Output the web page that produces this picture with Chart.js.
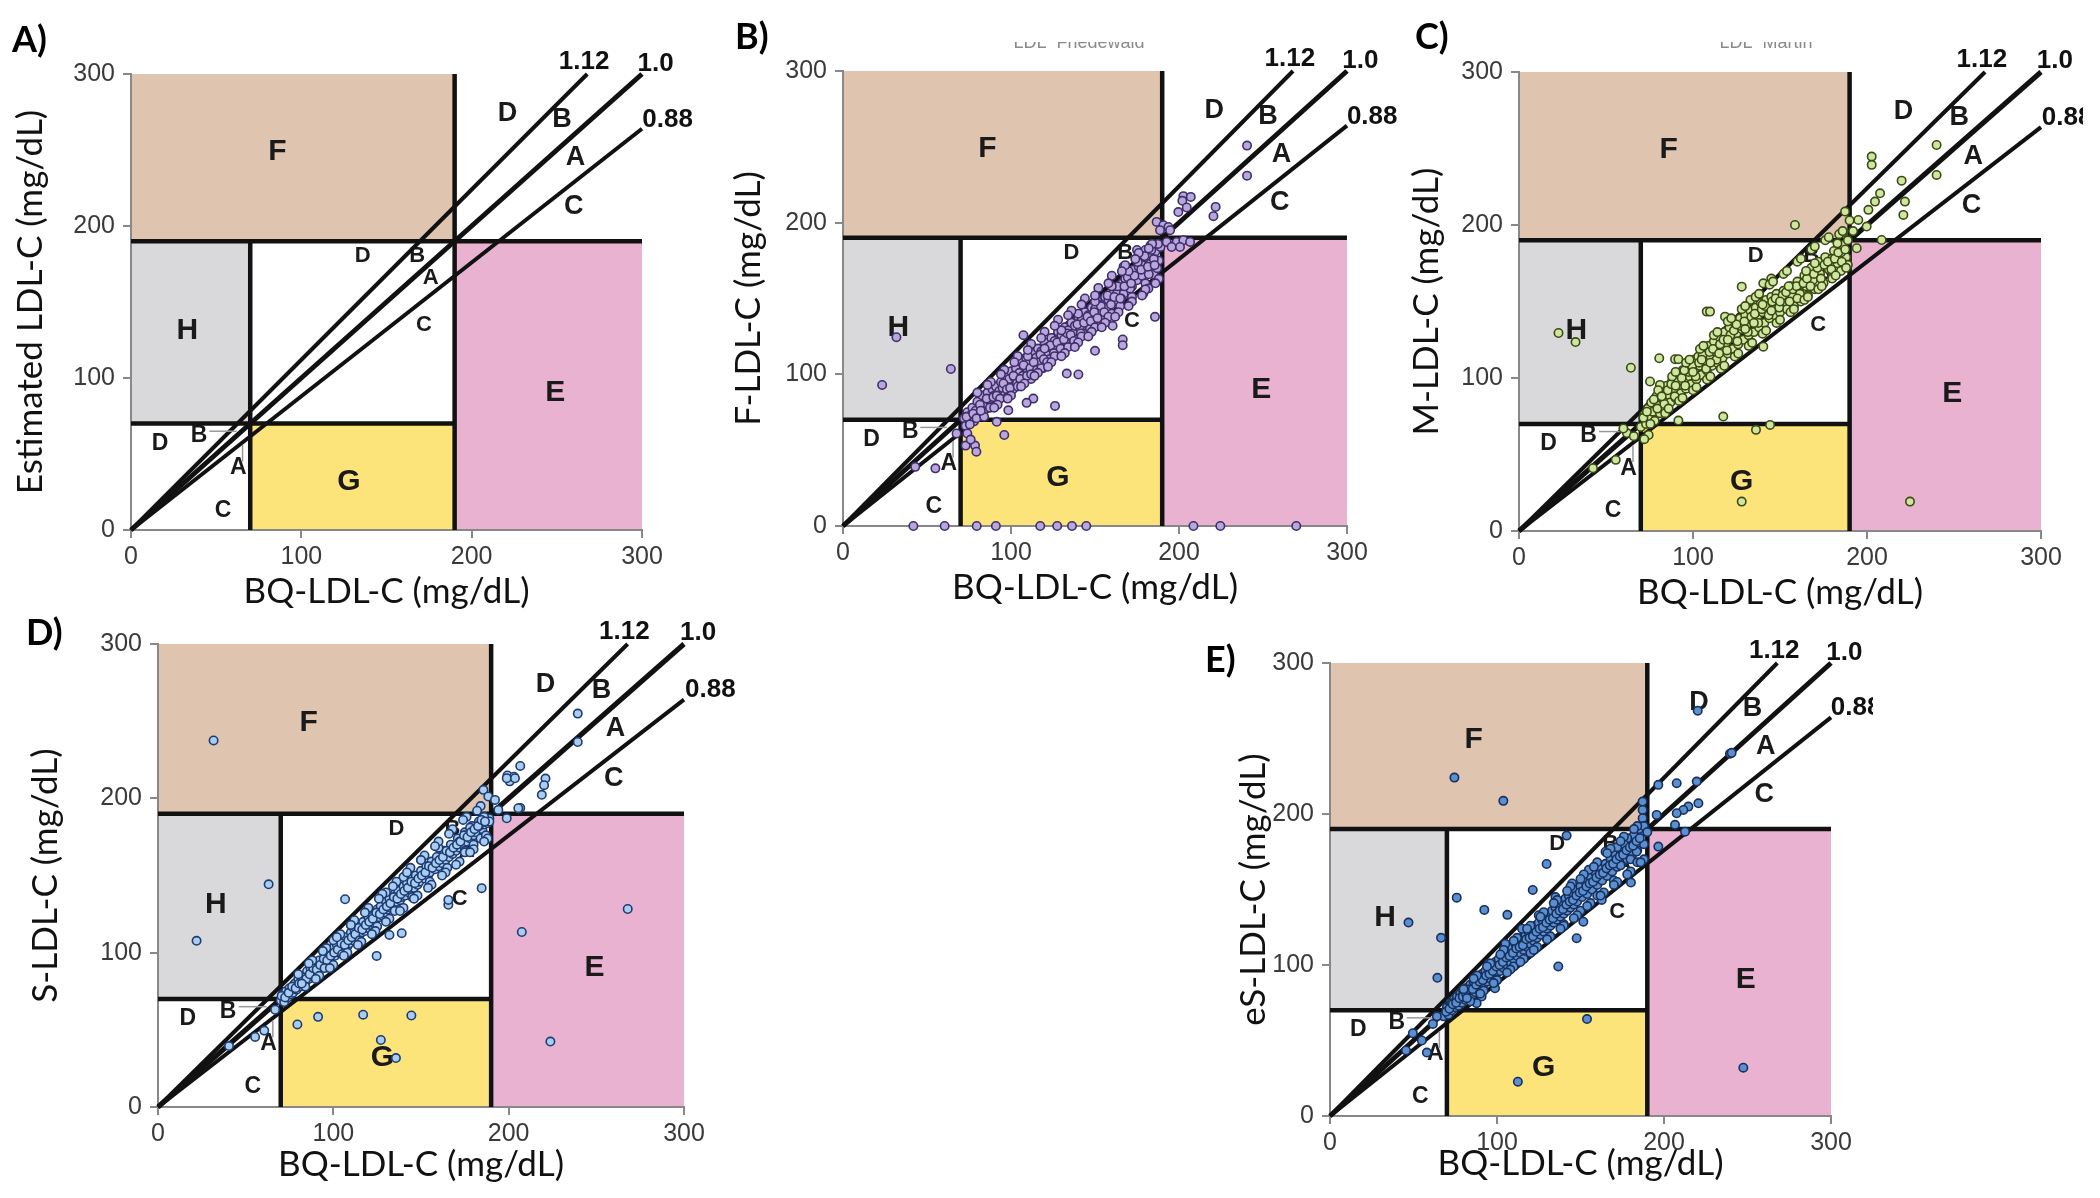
<!DOCTYPE html>
<html>
<head>
<meta charset="utf-8">
<script src="https://cdn.jsdelivr.net/npm/chart.js@4.4.1/dist/chart.umd.min.js"></script>
<style>
  body { margin: 0; background: #fff; width: 2100px; height: 1198px; overflow: hidden; position: relative; }
  canvas { position: absolute; }
  .tag { position: absolute; font: bold 36px Lato; color: #000; line-height: 1; }
  .faint { position: absolute; overflow: hidden; height: 9px; width: 200px; }
  .faint span { position: absolute; left: 0; width: 200px; text-align: center; top: -9px; font: 18px "Liberation Sans"; line-height: 18px; color: #8a8a8a; white-space: nowrap; }
</style>
</head>
<body>
<script>
// axis + zone definitions
const axisTicks = [0, 100, 200, 300];
const cutLow = 70;
const cutHigh = 190;
const slopes = [1.12, 1.0, 0.88];
const slopeLabels = ['1.12', '1.0', '0.88'];
const slopeLabelAt = [[266, 308], [308, 307], [315, 270]];

// zone letters [text, x, y] in data units
const regionLetters = [['F', 86, 249], ['H', 33, 131], ['E', 249, 90], ['G', 128, 32]];
const upperLetters = [['D', 221, 274], ['B', 253, 270], ['A', 261, 245], ['C', 260, 213]];
const middleLetters = [['D', 136, 180], ['B', 168, 180], ['A', 176, 166], ['C', 172, 135]];
const lowerLetters = [['D', 17, 57], ['B', 40, 62], ['A', 63, 41], ['C', 54, 13]];

// B) F-LDL-C vs BQ-LDL-C
const pointsB = [
  [72,71],[73,66],[74,75],[75,70],[76,73],[77,78],[78,69],[79,76],[80,82],[81,74],[82,79],[83,86],[84,77],[85,81],[86,88],
  [87,83],[88,79],[89,90],[90,86],[91,92],[92,82],[93,89],[94,95],[95,91],[96,86],[97,99],[98,93],[99,97],[100,102],[101,90],
  [102,98],[103,104],[104,96],[105,101],[106,108],[107,99],[108,105],[109,111],[110,102],[111,108],[112,97],[113,114],[114,106],
  [115,111],[116,117],[117,108],[118,115],[119,104],[120,121],[121,113],[122,118],[123,110],[124,124],[125,117],[126,122],
  [127,113],[128,128],[129,120],[130,126],[131,116],[132,131],[133,124],[134,129],[135,120],[136,134],[137,127],[138,132],
  [139,123],[140,138],[141,131],[142,136],[143,127],[144,141],[145,134],[146,139],[147,130],[148,144],[149,138],[150,143],
  [151,133],[152,148],[153,141],[154,146],[155,137],[156,151],[157,144],[158,149],[160,140],[161,155],[162,148],[163,153],
  [165,145],[166,160],[167,153],[168,163],[170,158],[171,166],[172,151],[173,169],[175,162],[176,171],[178,165],[179,175],
  [180,160],[181,177],[183,170],[184,179],[185,166],[186,181],[188,175],[189,184],
  [179,178],[183,173],[175,182],[167,171],[172,158],[176,178],[180,182],[183,185],[178,172],[185,176],[187,170],[182,166],
  [202.6,217.5],[207,217],[202,214.4],[204.6,210],[199.6,207],[221.8,210.4],[220.5,204.3],[240.5,250.8],[240.5,231],
  [186.7,200.5],[190.7,198.3],[193.7,197.2],[188.7,195],[194.7,195],[192.7,187.3],[198.6,187.3],[202.6,188.4],
  [206.6,187.3],[195.6,184],[200.6,184],
  [41.9,0],[60.5,0],[79.6,0],[91,0],[117.4,0],[127.5,0],[136.3,0],[144.8,0],[208.6,0],[224.6,0],[269.8,0],
  [31.8,124.5],[23.3,93],[64.2,103.5],
  [43,39],[55,38],[67.6,61],[74,61],[78.6,53],[79.4,49],[96,60],[73,53],[76,57],
  [107.4,125.8],[126.2,79.2],[133.2,100.5],[140.1,99.9],[150,115.5],[166.5,123],[166.5,119.2],[160.5,132],[185.7,137.9],
  [170.9,156.6],[178.8,153.3],[181.8,156.6],[113.3,84],[109.3,81.2],[98.4,76.3],[91.5,68.7]
];
const bandB = [
  [73.5,72],[75.5,67],[77.5,74],[79.5,71],[81.5,80],[83.5,75],[85.5,84],[87.5,78],[89.5,85],[91.5,86],[93.5,84],[95.5,94],
  [97.5,90],[99.5,91],[101.5,99],[103.5,94],[105.5,97],[107.5,106],[109.5,99],[111.5,104],[113.5,108],[115.5,103],[117.5,113],
  [119.5,110],[121.5,108],[123.5,119],[125.5,114],[127.5,121],[129.5,117],[131.5,123],[133.5,127],[135.5,126],[137.5,122],
  [139.5,133],[141.5,127],[143.5,134],[145.5,138],[147.5,135],[149.5,141],[151.5,137],[153.5,145],[155.5,141],[157.5,152],
  [159.5,146],[161.5,151],[163.5,158],[165.5,150],[167.5,158],[169.5,164],[171.5,160],[173.5,165],[175.5,174],[177.5,169],
  [179.5,178],[181.5,171],[183.5,182],[185.5,172],[187.5,186],
  [98,85],[104,92],[112,100],[118,104],[126,112],[134,118],[142,125],[150,131],[158,138],[165,150],[110,112],[120,117],
  [130,129],[140,140],[150,148],[160,158],[170,168]
];
const spreadB = [
  [80,88],[84,72],[88,95],[92,80],[96,103],[100,86],[104,112],[108,94],[112,120],[116,101],[120,128],[124,108],[128,136],
  [132,114],[136,142],[140,121],[144,150],[148,128],[152,157],[156,134],[160,165],[164,141],[168,172],[172,148],[176,180],
  [180,156],[184,186],[188,163],
  [82,76],[86,93],[90,78],[94,100],[98,84],[102,108],[106,92],[110,116],[114,99],[118,124],[122,105],[126,132],[130,112],
  [134,139],[138,118],[142,146],[146,125],[150,152],[154,131],[158,160],[162,138],[166,168],[170,145],[174,176],[178,152],
  [182,183],[186,160]
];

// C) M-LDL-C vs BQ-LDL-C
const pointsC = [
  [70,68],[72,76],[73,70],[74,80],[75,73],[76,84],[77,78],[78,72],[79,88],[80,82],[81,77],[82,92],[83,86],[84,80],[85,95],
  [86,89],[87,84],[88,98],[89,92],[90,87],[91,102],[92,95],[93,90],[94,105],[95,99],[96,93],[97,108],[98,101],[99,96],
  [100,112],[101,105],[102,99],[103,114],[104,108],[105,102],[106,118],[107,111],[108,105],[109,121],[110,114],[111,108],
  [112,124],[113,117],[114,110],[115,127],[116,120],[117,113],[118,130],[119,123],[120,116],[121,133],[122,126],[123,119],
  [124,136],[125,129],[126,122],[127,139],[128,132],[129,125],[130,141],[131,135],[132,128],[133,144],[134,138],[135,130],
  [136,146],[137,140],[138,133],[139,149],[140,143],[141,136],[142,151],[143,145],[144,139],[145,153],[146,147],[147,141],
  [148,155],[149,149],[150,143],[152,157],[153,150],[154,145],[156,160],[157,153],[158,147],[160,163],[161,156],[162,150],
  [164,167],[165,160],[166,154],[168,172],[169,164],[170,158],[172,176],[173,168],[175,162],[176,179],[178,171],[180,166],
  [181,183],[183,175],[185,170],[186,187],[188,179],[189,174],
  [202.7,244.7],[202.7,239.3],[219.9,229],[221.8,215.3],[220.9,206.6],[240,252.3],[240,232.7],[158.6,200],[207.5,220.7],
  [204.6,215.3],[200.8,209.9],[199.8,199],[195,203.3],[194.1,184.8],[208.4,190.2],[187.4,208.8],[190,203],[192,196],
  [186,195],[189,190],[183,188],[185,182],[180,178],
  [22.7,129.4],[32.5,123.5],[64.3,106.7],
  [80.6,112.9],[89.7,112.3],[91.6,112.3],[75.3,97.7],[81,95.5],[117.4,74.8],[136.2,66.1],[144.3,69.3],[91.6,72.2],
  [128,19.2],[224.7,19.2],[107.9,143.4],[109.8,143.4],[118.4,140.1],[128,159.7],[140.4,120.5],[140.4,161.9],[145,165],
  [133,151],[42.5,41],[55.6,46.5],[74.5,62.8],[62,64],[66,62],[72,60],[60,67]
];
const bandC = [
  [71.5,74],[73.5,78],[75.5,70],[77.5,86],[79.5,80],[81.5,90],[83.5,83],[85.5,92],[87.5,96],[89.5,88],[91.5,98],[93.5,100],
  [95.5,95],[97.5,104],[99.5,108],[101.5,101],[103.5,110],[105.5,115],[107.5,106],[109.5,117],[111.5,119],[113.5,112],
  [115.5,122],[117.5,125],[119.5,118],[121.5,128],[123.5,131],[125.5,124],[127.5,134],[129.5,137],[131.5,130],[133.5,140],
  [135.5,142],[137.5,136],[139.5,145],[141.5,147],[143.5,141],[145.5,150],[147.5,152],[149.5,146],[151.5,154],[153.5,156],
  [155.5,150],[157.5,158],[159.5,160],[161.5,155],[163.5,162],[165.5,165],[167.5,160],[169.5,168],[171.5,172],[173.5,165],
  [175.5,174],[177.5,176],[179.5,171],[181.5,178],[183.5,182],[185.5,176],[187.5,184],
  [90,95],[100,104],[110,110],[120,125],[130,132],[140,148],[150,150],[160,152],[170,175],[95,105],[105,112],[115,116],
  [125,135],[135,136],[145,144],[155,160],[165,170]
];
const spreadC = [
  [80,92],[84,77],[88,101],[92,85],[96,110],[100,92],[104,119],[108,99],[112,128],[116,106],[120,137],[124,114],[128,145],
  [132,121],[136,153],[140,129],[144,161],[148,136],[152,168],[156,143],[160,176],[164,151],[168,184],[172,158],[176,190],
  [180,165],[184,194],[188,172],
  [82,88],[86,80],[90,104],[94,87],[98,112],[102,94],[106,121],[110,101],[114,130],[118,108],[122,139],[126,116],[130,147],
  [134,123],[138,155],[142,131],[146,163],[150,138],[154,170],[158,145],[162,178],[166,153],[170,186],[174,160],[178,192],
  [182,167],[186,196]
];

// D) S-LDL-C vs BQ-LDL-C
const pointsD = [
  [70,69],[71,73],[72,68],[73,75],[74,71],[75,77],[76,73],[77,74],[78,80],[79,76],[80,83],[81,78],[82,85],[83,80],[84,81],
  [85,88],[86,83],[87,90],[88,85],[89,87],[90,93],[91,88],[92,95],[93,90],[94,92],[95,98],[96,93],[97,100],[98,95],[99,97],
  [100,103],[101,98],[102,105],[103,100],[104,101],[105,108],[106,103],[107,110],[108,104],[109,106],[110,113],[111,108],
  [112,115],[113,110],[114,111],[115,118],[116,113],[117,120],[118,114],[119,116],[120,123],[121,118],[122,125],[123,119],
  [124,121],[125,128],[126,123],[127,130],[128,124],[129,126],[130,133],[131,128],[132,135],[133,129],[134,131],[135,138],
  [136,133],[137,140],[138,134],[139,136],[140,143],[141,137],[142,145],[143,139],[144,141],[145,148],[146,142],[147,150],
  [148,144],[149,146],[150,153],[152,148],[153,156],[154,150],[155,152],[156,159],[158,154],[159,162],[160,156],[162,158],
  [163,166],[164,160],[166,162],[167,170],[168,164],[170,166],[171,174],[172,168],[174,170],[175,178],[176,172],[178,174],
  [179,182],[180,176],[182,178],[183,185],[185,180],[186,183],[188,184],[189,187],
  [239.4,254.9],[239.4,236.5],[206.6,221],[199.3,214.8],[203,214],[200.6,211],[221,212.8],[220.2,208.5],[218.9,202.3],
  [206.6,193.8],
  [31.7,237.5],[63.1,144.3],[22,107.7],[267.9,128.3],[207.5,113.4],[223.8,42.4],
  [79.5,53.5],[91.3,58.4],[117,59.8],[144.5,59.3],[127.1,43.4],[135.7,31.7],
  [55.4,45.4],[60.6,49.5],[40.5,39.5],[66.8,63],
  [106.7,134.6],[124.7,97.9],[132,111.5],[139,112.6],[165.6,131],[165.6,134.2],[184.6,141.8],[198.9,213],[203.6,213],
  [194.1,192.5],[198.9,187.1],[185.6,205.5],[188.4,201.2],[192.2,199],[205.5,193.6],
  [186,188],[189,185],[183,182],[181,178],[178,181],[176,176],[184,174],[187,176],[180,170],[175,166],[172,172]
];
const bandD = [
  [70.5,72],[72.5,71],[74.5,74],[76.5,78],[78.5,77],[80.5,80],[82.5,84],[84.5,83],[86.5,86],[88.5,90],[90.5,89],[92.5,92],
  [94.5,96],[96.5,95],[98.5,98],[100.5,100],[102.5,102],[104.5,106],[106.5,105],[108.5,108],[110.5,110],[112.5,112],
  [114.5,116],[116.5,115],[118.5,118],[120.5,120],[122.5,122],[124.5,126],[126.5,125],[128.5,128],[130.5,130],[132.5,132],
  [134.5,136],[136.5,135],[138.5,138],[140.5,140],[142.5,142],[144.5,146],[146.5,145],[148.5,148],[150.5,150],[152.5,152],
  [154.5,156],[156.5,155],[158.5,158],[160.5,160],[162.5,162],[164.5,166],[166.5,165],[168.5,168],[170.5,170],[172.5,172],
  [174.5,176],[176.5,175],[178.5,178],[180.5,180],[182.5,182],[184.5,186],[186.5,185],
  [95,90],[105,99],[115,108],[125,117],[135,127],[145,136],[155,146],[165,155],[175,165],[100,108],[110,118],[120,128],
  [130,139],[140,149],[150,160],[160,168]
];
const spreadD = [
  [80,86],[84,78],[88,95],[92,85],[96,103],[100,92],[104,112],[108,100],[112,121],[116,107],[120,129],[124,114],[128,138],
  [132,122],[136,146],[140,129],[144,155],[148,137],[152,163],[156,144],[160,172],[164,152],[168,180],[172,159],[176,188],
  [180,167],[184,195],[188,174],
  [82,80],[86,93],[90,83],[94,101],[98,90],[102,110],[106,98],[110,118],[114,105],[118,126],[122,112],[126,135],[130,120],
  [134,143],[138,127],[142,152],[146,135],[150,160],[154,142],[158,169],[162,150],[166,177],[170,157],[174,186],[178,165],
  [182,192],[186,172]
];

// E) eS-LDL-C vs BQ-LDL-C
const pointsE = [
  [68,66],[70,72],[71,67],[72,75],[73,70],[74,77],[75,72],[76,79],[77,73],[78,81],[79,75],[80,83],[81,77],[82,85],[83,78],
  [84,87],[85,80],[86,89],[87,82],[88,91],[89,84],[90,86],[91,94],[92,87],[93,96],[94,89],[95,98],[96,91],[97,100],[98,93],
  [99,102],[100,95],[101,104],[102,96],[103,106],[104,98],[105,108],[106,100],[107,110],[108,102],[109,112],[110,104],
  [111,114],[112,106],[113,116],[114,108],[115,118],[116,110],[117,120],[118,112],[119,122],[120,114],[121,124],[122,116],
  [123,126],[124,118],[125,128],[126,120],[127,130],[128,122],[129,132],[130,124],[131,134],[132,126],[133,136],[134,128],
  [135,138],[136,130],[137,140],[138,132],[139,142],[140,134],[141,144],[142,136],[143,146],[144,138],[145,148],[146,140],
  [147,150],[148,142],[150,152],[151,145],[153,155],[154,147],[156,158],[157,150],[159,161],[160,153],[162,164],[163,156],
  [165,167],[166,159],[168,170],[169,162],[171,173],[172,165],[174,176],[175,168],[177,179],[178,170],[180,182],[181,173],
  [183,184],[184,176],[186,187],[188,180],
  [74.5,224.1],[103.8,208.7],[47,128.1],[66.5,118],[64.3,91.5],[220.2,268.4],[239.5,239.9],[240.5,240.5],[247.5,32],
  [112.5,22.7],[153.9,64.2],[45.5,43.4],[58,42],[49.6,54.8],[61.6,61],[55,50],[64,66],
  [75.9,144.6],[92.4,136.5],[106.2,133.2],[121.4,149.7],[129.7,166.9],[141.7,185.7],[136.7,99],[147.7,117.7],
  [196.6,219.3],[207.6,220.4],[219.6,221.5],[220.6,207.1],[214.6,204.9],[211.6,202.7],[207.6,200.5],[206.6,192.8],
  [212.6,188.3],[196.6,178.4],[195.6,199.4],[187.2,208.2],[187.2,202.7],[187.2,197.2],[183.6,175.1],[180.2,154.6],
  [162.7,143.1],[151.7,128.7],[98.8,84.6],[90.8,79.1],[87.8,74.7],[72.9,74.7],[79.8,82.4],
  [185,190],[182,186],[188,192],[190,188],[178,184],[176,180],[172,178],[180,170],[174,166],[184,168]
];
const bandE = [
  [69.5,69],[71.5,71],[73.5,74],[75.5,75],[77.5,78],[79.5,79],[81.5,81],[83.5,84],[85.5,84],[87.5,87],[89.5,89],[91.5,90],
  [93.5,93],[95.5,94],[97.5,96],[99.5,99],[101.5,100],[103.5,102],[105.5,105],[107.5,106],[109.5,108],[111.5,111],
  [113.5,112],[115.5,113],[117.5,117],[119.5,118],[121.5,119],[123.5,122],[125.5,124],[127.5,125],[129.5,128],[131.5,130],
  [133.5,131],[135.5,134],[137.5,136],[139.5,137],[141.5,140],[143.5,142],[145.5,143],[147.5,146],[149.5,148],[151.5,149],
  [153.5,152],[155.5,154],[157.5,155],[159.5,158],[161.5,160],[163.5,161],[165.5,164],[167.5,166],[169.5,167],[171.5,170],
  [173.5,172],[175.5,173],[177.5,176],[179.5,178],[181.5,179],[183.5,182],[185.5,184],
  [90,82],[100,90],[110,99],[120,108],[130,117],[140,127],[150,136],[160,146],[170,156],[95,101],[105,114],[115,124],
  [125,133],[135,145],[145,154],[155,163],[165,175]
];
const spreadE = [
  [80,84],[84,76],[88,93],[92,83],[96,101],[100,90],[104,110],[108,97],[112,118],[116,104],[120,126],[124,112],[128,135],
  [132,119],[136,143],[140,126],[144,152],[148,133],[152,160],[156,141],[160,168],[164,148],[168,177],[172,155],[176,185],
  [180,162],[184,192],[188,170],
  [82,78],[86,91],[90,81],[94,99],[98,88],[102,107],[106,95],[110,116],[114,102],[118,124],[122,110],[126,132],[130,117],
  [134,141],[138,124],[142,149],[146,131],[150,157],[154,139],[158,165],[162,146],[166,174],[170,153],[174,182],[178,160],
  [182,190],[186,168]
];

// panel setup: plot box in page pixels, titles, marker colours
const panels = [
  { tag: 'A)', tagAt: [12, 20], yTitle: 'Estimated LDL-C (mg/dL)', box: [131, 74, 642, 530], right: 70, yGap: 100, xGap: 62, pts: [], fill: '#fff', edge: '#000' },
  { tag: 'B)', tagAt: [735, 17], yTitle: 'F-LDL-C (mg/dL)', box: [843, 71, 1347, 526], right: 70, yGap: 94, xGap: 62, pts: pointsB.concat(bandB, spreadB), fill: '#b9a6dc', edge: '#3e2f6b', faint: ['LDL_Friedewald', 1079] },
  { tag: 'C)', tagAt: [1415, 17], yTitle: 'M-LDL-C (mg/dL)', box: [1519, 72, 2041, 531], right: 42, yGap: 92, xGap: 62, pts: pointsC.concat(bandC, spreadC), fill: '#cfe6a0', edge: '#3b4a14', faint: ['LDL_Martin', 1766] },
  { tag: 'D)', tagAt: [26, 613], yTitle: 'S-LDL-C (mg/dL)', box: [158, 644, 684, 1107], right: 70, yGap: 112, xGap: 58, pts: pointsD.concat(bandD, spreadD), fill: '#a9cdf0', edge: '#1e3c72' },
  { tag: 'E)', tagAt: [1205, 640], yTitle: 'eS-LDL-C (mg/dL)', box: [1330, 663, 1831, 1116], right: 42, yGap: 76, xGap: 48, pts: pointsE.concat(bandE, spreadE), fill: '#5b8fd0', edge: '#17305c' }
];

const YW = 140, TOP = 70, XH = 85, TITLE_SIZE = 35;

const zonePlugin = {
  id: 'zones',
  beforeDraw(chart) {
    const { ctx, scales: { x, y } } = chart;
    const box = (x0, y0, x1, y1, color) => {
      const px0 = x.getPixelForValue(x0), px1 = x.getPixelForValue(x1);
      const py0 = y.getPixelForValue(y0), py1 = y.getPixelForValue(y1);
      ctx.fillStyle = color;
      ctx.fillRect(px0, py1, px1 - px0, py0 - py1);
    };
    ctx.save();
    box(0, cutHigh, cutHigh, 300, '#dfc4b0');   // F
    box(0, cutLow, cutLow, cutHigh, '#d9d9db');  // H
    box(cutHigh, 0, 300, cutHigh, '#eab2d1');   // E
    box(cutLow, 0, cutHigh, cutLow, '#fde47a');  // G
    ctx.restore();
  },
  beforeDatasetsDraw(chart) {
    const { ctx, scales: { x, y } } = chart;
    ctx.save();
    ctx.fillStyle = '#1a1a1a';
    ctx.textAlign = 'center';
    ctx.textBaseline = 'middle';
    const put = (list, size) => {
      ctx.font = 'bold ' + size + 'px "Liberation Sans"';
      list.forEach(([t, vx, vy]) => ctx.fillText(t, x.getPixelForValue(vx), y.getPixelForValue(vy)));
    };
    put(regionLetters, 30);
    put(upperLetters, 27);
    put(middleLetters, 22);
    put(lowerLetters, 23);
    ctx.restore();
  },
  afterDraw(chart) {
    const { ctx, scales: { x, y } } = chart;
    ctx.save();
    ctx.fillStyle = '#111';
    ctx.font = 'bold 26px "Liberation Sans"';
    ctx.textAlign = 'center';
    ctx.textBaseline = 'middle';
    slopeLabels.forEach((t, i) => {
      ctx.fillText(t, x.getPixelForValue(slopeLabelAt[i][0]), y.getPixelForValue(slopeLabelAt[i][1]));
    });
    ctx.restore();
  }
};

function seg(data, width, color) {
  return { data, showLine: true, borderColor: color, borderWidth: width, pointRadius: 0, order: 5, clip: false, borderCapStyle: 'butt' };
}

panels.forEach(p => {
  const [L, T, R, B] = p.box;
  const cv = document.createElement('canvas');
  const w = YW + (R - L) + p.right;
  const h = TOP + (B - T) + XH;
  cv.width = w; cv.height = h;
  cv.style.left = (L - YW) + 'px';
  cv.style.top = (T - TOP) + 'px';
  cv.style.width = w + 'px';
  cv.style.height = h + 'px';
  document.body.appendChild(cv);

  const tag = document.createElement('div');
  tag.className = 'tag';
  tag.textContent = p.tag;
  tag.style.left = p.tagAt[0] + 'px';
  tag.style.top = p.tagAt[1] + 'px';
  document.body.appendChild(tag);

  if (p.faint) {
    const f = document.createElement('div');
    f.className = 'faint';
    f.style.left = (p.faint[1] - 100) + 'px';
    f.style.top = '42px';
    const s = document.createElement('span');
    s.textContent = p.faint[0];
    f.appendChild(s);
    document.body.appendChild(f);
  }

  const lines = [
    seg([{ x: 0, y: cutHigh }, { x: 300, y: cutHigh }], 4.5, '#111'),
    seg([{ x: cutHigh, y: 0 }, { x: cutHigh, y: 300 }], 4.5, '#111'),
    seg([{ x: 0, y: cutLow }, { x: cutHigh, y: cutLow }], 4.5, '#111'),
    seg([{ x: cutLow, y: 0 }, { x: cutLow, y: cutHigh }], 4.5, '#111'),
    seg([{ x: 46, y: 65 }, { x: 62, y: 65 }], 1.5, '#999'),
    seg([{ x: 65.5, y: 45 }, { x: 65.5, y: 56 }], 1.5, '#999')
  ];
  slopes.forEach(s => {
    lines.push(seg([{ x: 0, y: 0 }, { x: Math.min(300, 300 / s), y: Math.min(300, 300 * s) }], s === 1 ? 5 : 4, '#111'));
  });

  const datasets = [{
    data: p.pts.map(([x, y]) => ({ x, y })),
    pointRadius: 4.2,
    pointBorderWidth: 1.6,
    pointBackgroundColor: p.fill,
    pointBorderColor: p.edge,
    showLine: false,
    order: 0,
    clip: false
  }].concat(lines);

  const lh = TITLE_SIZE * 1.2;
  new Chart(cv, {
    type: 'scatter',
    data: { datasets },
    plugins: [zonePlugin],
    options: {
      responsive: false,
      animation: false,
      devicePixelRatio: 1,
      layout: { padding: { left: 0, top: TOP, right: p.right, bottom: 0 } },
      plugins: { legend: { display: false }, tooltip: { enabled: false } },
      scales: {
        x: {
          type: 'linear', min: axisTicks[0], max: axisTicks[axisTicks.length - 1],
          afterBuildTicks: s => { s.ticks = axisTicks.map(v => ({ value: v })); },
          ticks: { color: '#3a3a3a', font: { family: 'Liberation Sans', size: 25 }, padding: 4, maxRotation: 0, autoSkip: false },
          grid: { display: true, drawOnChartArea: false, drawTicks: true, tickLength: 8, color: '#888', lineWidth: 2 },
          border: { display: true, color: '#888', width: 2 },
          title: { display: true, text: 'BQ-LDL-C (mg/dL)', color: '#111', font: { family: 'Lato', size: TITLE_SIZE }, padding: { top: 0, bottom: XH - p.xGap - lh / 2 } },
          afterFit: s => { s.height = XH; }
        },
        y: {
          type: 'linear', min: axisTicks[0], max: axisTicks[axisTicks.length - 1],
          afterBuildTicks: s => { s.ticks = axisTicks.map(v => ({ value: v })); },
          ticks: { color: '#3a3a3a', font: { family: 'Liberation Sans', size: 25 }, padding: 8, autoSkip: false },
          grid: { display: true, drawOnChartArea: false, drawTicks: true, tickLength: 8, color: '#888', lineWidth: 2 },
          border: { display: true, color: '#888', width: 2 },
          title: { display: true, text: p.yTitle, color: '#111', font: { family: 'Lato', size: TITLE_SIZE }, padding: { top: YW - p.yGap - lh / 2, bottom: 0 } },
          afterFit: s => { s.width = YW; }
        }
      }
    }
  });
});
</script>
</body>
</html>
